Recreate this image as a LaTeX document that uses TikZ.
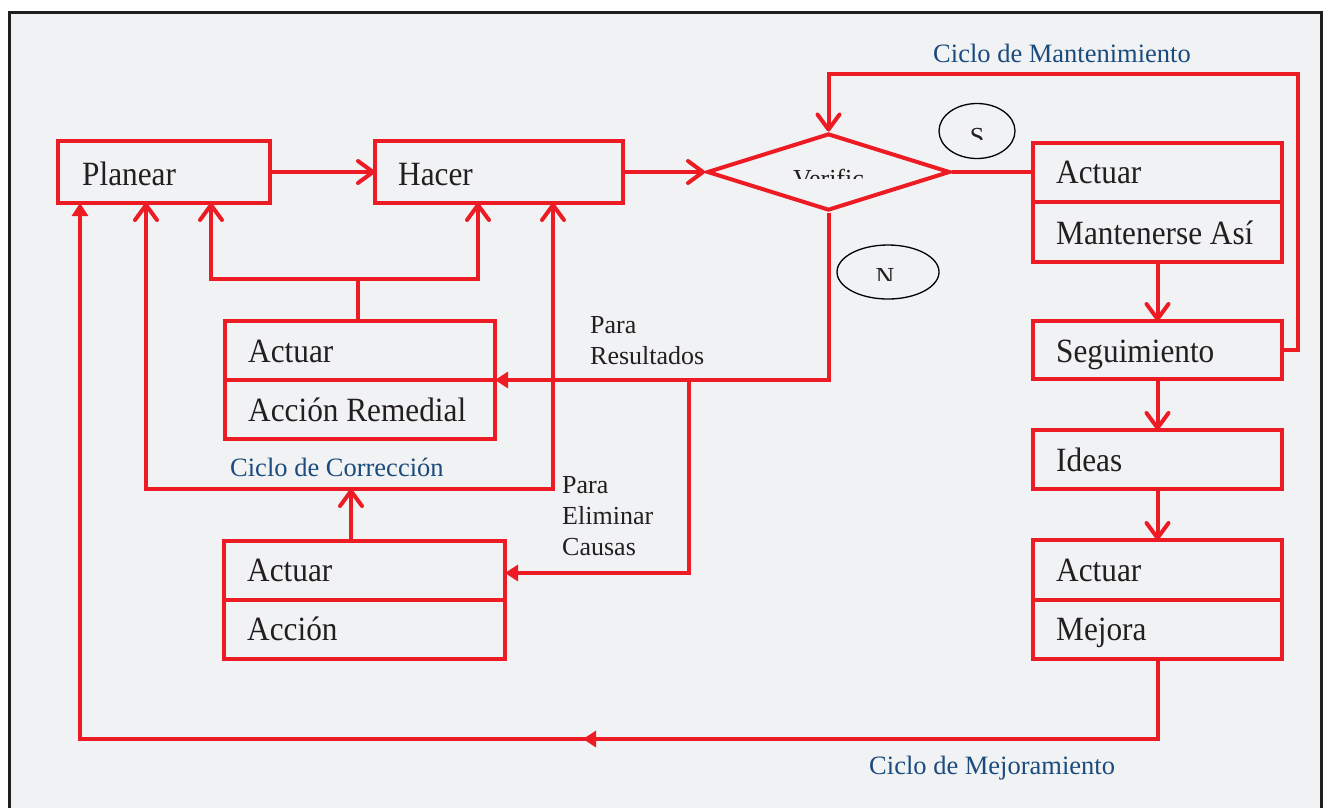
\documentclass[tikz,border=0pt]{standalone}
\usepackage{fontspec}
\usepackage{graphicx}
\setmainfont{Liberation Serif}
\usetikzlibrary{arrows.meta,shapes.geometric}
\definecolor{cred}{RGB}{237,28,36}
\definecolor{cblue}{RGB}{27,75,125}
\definecolor{cdark}{RGB}{35,31,32}
\definecolor{cbg}{RGB}{241,242,244}
\newcommand{\bt}[1]{\scalebox{0.92}[1]{#1}}
\tikzset{
  vb/.tip={Straight Barb[length=15pt,width=22pt,round]},
  tri/.tip={Triangle[length=13pt,width=16pt]},
}
\begin{document}
\begin{tikzpicture}[x=1pt,y=-1pt,
  redline/.style={draw=cred,line width=4pt,line join=miter},
  box/.style={rectangle,draw=cred,line width=4pt,inner sep=0pt,outer sep=0pt},
  btext/.style={anchor=base west,inner sep=0pt,text=cdark,font=\fontsize{34}{40}\selectfont},
  ltext/.style={anchor=base west,inner sep=0pt,text=cdark,font=\fontsize{26}{31}\selectfont},
  cyc/.style={anchor=base west,inner sep=0pt,text=cblue,font=\fontsize{26.5}{31}\selectfont},
  ell/.style={ellipse,draw=black,line width=1.3pt,inner sep=0pt},
  cut/.style={anchor=base,inner sep=0pt,text=cdark,font=\fontsize{26}{31}\selectfont}
]
\useasboundingbox (0,0) rectangle (1324,807);
\fill[white] (0,0) rectangle (1324,807);
\fill[cbg] (9.5,12) rectangle (1321.5,830);
\draw[black!88,line width=3pt] (9.5,830) -- (9.5,12) -- (1321.5,12) -- (1321.5,830);

% boxes
\node[box,minimum width=212pt,minimum height=62pt] (plan) at (164,172) {};
\node[box,minimum width=248pt,minimum height=62pt] (hacer) at (499,172) {};
\node[diamond,draw=cred,line width=4pt,inner sep=0pt,minimum width=243pt,minimum height=77pt] (ver) at (828.5,172) {};
\node[box,minimum width=270pt,minimum height=59pt] (remA) at (360,350.5) {};
\node[box,minimum width=270pt,minimum height=59pt] (remB) at (360,409.5) {};
\node[box,minimum width=281pt,minimum height=59pt] (accA) at (364.5,570.5) {};
\node[box,minimum width=281pt,minimum height=59pt] (accB) at (364.5,629.5) {};
\node[box,minimum width=249pt,minimum height=59pt] (mantA) at (1157.5,172.5) {};
\node[box,minimum width=249pt,minimum height=60pt] (mantB) at (1157.5,232) {};
\node[box,minimum width=249pt,minimum height=58pt] (seg) at (1157.5,350) {};
\node[box,minimum width=249pt,minimum height=59pt] (ideas) at (1157.5,459.5) {};
\node[box,minimum width=249pt,minimum height=60pt] (mejA) at (1157.5,570) {};
\node[box,minimum width=249pt,minimum height=59pt] (mejB) at (1157.5,629.5) {};

% box texts
\node[btext] (tplan) at (82,185) {\bt{Planear}};
\node[btext] (thacer) at (398,185) {\bt{Hacer}};
\node[btext] (tremA) at (248,362) {\bt{Actuar}};
\node[btext] (tremB) at (248,421) {\bt{Acción Remedial}};
\node[btext] (taccA) at (247,581) {\bt{Actuar}};
\node[btext] (taccB) at (247,640) {\bt{Acción}};
\node[btext] (tmantA) at (1056,183) {\bt{Actuar}};
\node[btext] (tmantB) at (1056,244) {\bt{Mantenerse Así}};
\node[btext] (tseg) at (1056,362) {\bt{Seguimiento}};
\node[btext] (tideas) at (1056,471) {\bt{Ideas}};
\node[btext] (tmejA) at (1056,581) {\bt{Actuar}};
\node[btext] (tmejB) at (1056,640) {\bt{Mejora}};

% clipped texts
\begin{scope}
  \clip (760,150) rectangle (900,178);
  \node[cut] (tver) at (828.5,187) {Verific};
\end{scope}
\node[ell,minimum width=76pt,minimum height=55pt] (es) at (977,131) {};
\begin{scope}
  \clip (950,110) rectangle (1005,139);
  \node[cut] (tes) at (977,145) {S};
\end{scope}
\node[ell,minimum width=102pt,minimum height=54pt] (en) at (888,272) {};
\begin{scope}
  \clip (850,255) rectangle (930,280);
  \node[cut] (ten) at (885,285) {N};
\end{scope}

% coordinates
\coordinate (mt) at (1298,74);
\coordinate (j1) at (358,279);
\coordinate (jL) at (211,279);
\coordinate (jR) at (478,279);
\coordinate (cL) at (146,489);
\coordinate (cR) at (553,489);
\coordinate (ca) at (351,489);
\coordinate (jn) at (689,380);
\coordinate (jn2) at (689,573);
\coordinate (mj1) at (1157,739);
\coordinate (mj2) at (80,739);
\coordinate (mjm) at (583,739);
\coordinate (mjm0) at (603,739);

% connectors
\draw[redline,-vb] (plan.east) -- (hacer.west);
\draw[redline,-vb] (hacer.east) -- (ver.west);
\draw[redline] (ver.east) -- (ver.east -| mantA.west);
\draw[redline,-vb] (seg.east) -| (mt) -| (ver.north);
\draw[redline,-vb] (mantB.south) -- (seg.north);
\draw[redline,-vb] (seg.south) -- (ideas.north);
\draw[redline,-vb] (ideas.south) -- (mejA.north);
\draw[redline,-tri] (mejB.south) |- (mj2) -- (plan.south -| mj2);
\draw[cred,line width=4pt,-tri] (mjm0) -- (mjm);

\draw[redline] (remA.north -| j1) -- (j1);
\draw[redline,-vb] (j1) -- (jL) -- (plan.south -| jL);
\draw[redline,-vb] (j1) -- (jR) -- (hacer.south -| jR);
\draw[redline,vb-vb] (plan.south -| cL) -- (cL) -- (cR) -- (hacer.south -| cR);
\draw[redline,-vb] (accA.north -| ca) -- (ca);

\draw[redline,-tri] (ver.south) |- (remA.south east);
\draw[redline,-tri] (jn) -- (jn2) -- (accA.east |- jn2);

% labels
\node[ltext] (lp1) at (590,333) {Para};
\node[ltext] (lp2) at (590,364) {Resultados};
\node[ltext] (le1) at (562,493) {Para};
\node[ltext] (le2) at (562,524) {Eliminar};
\node[ltext] (le3) at (562,555) {Causas};
\node[cyc] (cmant) at (933,62) {Ciclo de Mantenimiento};
\node[cyc] (ccorr) at (230,476) {Ciclo de Corrección};
\node[cyc] (cmej) at (869,774) {Ciclo de Mejoramiento};
\end{tikzpicture}
\end{document}
